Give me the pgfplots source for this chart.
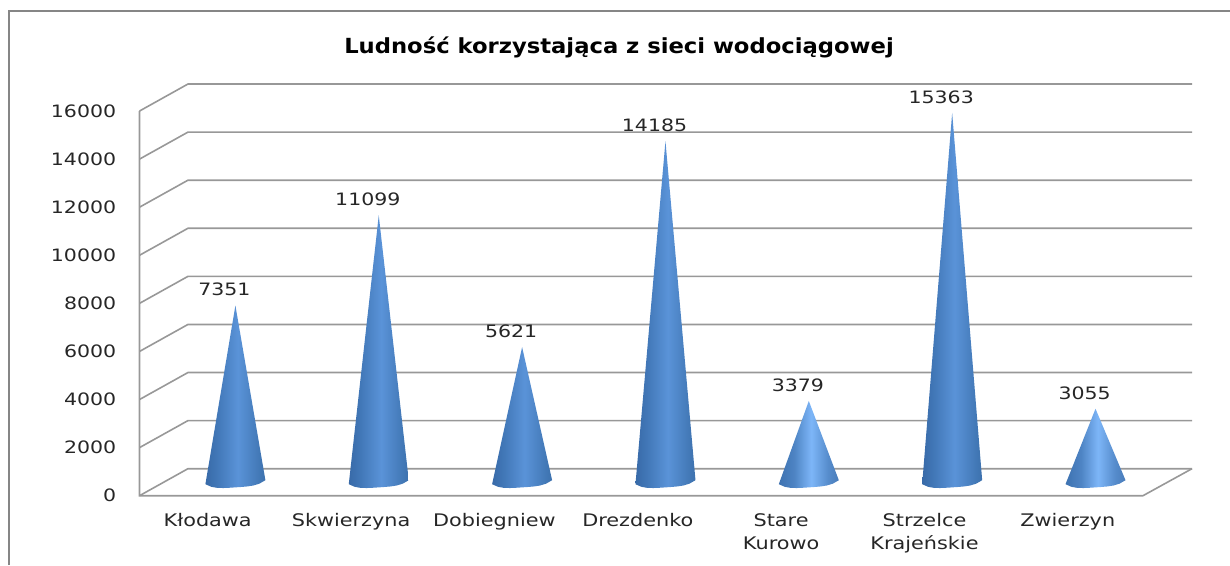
\documentclass[border=0pt]{standalone}
\usepackage{fontspec}
\setmainfont[FakeStretch=1.2]{DejaVu Sans}
\newfontfamily\titlefont[FakeStretch=1.09]{DejaVu Sans}
\usepackage{pgfplots}
\usepackage{pgfplotstable}
\pgfplotsset{compat=1.18}
\definecolor{gridc}{HTML}{989898}
\definecolor{framec}{HTML}{868686}
\definecolor{txt}{HTML}{262626}
\definecolor{aa}{HTML}{24507F}\definecolor{ab}{HTML}{3363A0}\definecolor{ac}{HTML}{4278B8}
\definecolor{ad}{HTML}{5A93D8}\definecolor{ae}{HTML}{4278B6}\definecolor{af}{HTML}{305F98}\definecolor{ag}{HTML}{224A78}
\definecolor{ba}{HTML}{2C5E9A}\definecolor{bb}{HTML}{3A6EAC}\definecolor{bc}{HTML}{4E84C4}
\definecolor{bd}{HTML}{7DB6F8}\definecolor{be}{HTML}{568CCC}\definecolor{bf}{HTML}{3A6AA6}\definecolor{bg}{HTML}{2A5488}
\pgfdeclarehorizontalshading{coneA}{100bp}{
  color(0bp)=(aa);color(20bp)=(ab);color(35bp)=(ac);
  color(52bp)=(ad);color(70bp)=(ae);color(88bp)=(af);color(100bp)=(ag)}
\pgfdeclarehorizontalshading{coneB}{100bp}{
  color(0bp)=(ba);color(22bp)=(bb);color(38bp)=(bc);
  color(52bp)=(bd);color(66bp)=(be);color(85bp)=(bf);color(100bp)=(bg)}
% data: population per municipality
\pgfplotstableread{
i v
0 7351
1 11099
2 5621
3 14185
4 3379
5 15363
6 3055
}\popdata
% outline of one cone: tip, then the front arc of its elliptical base
\pgfplotstableread{
u h e
0 1 0
0.2093 0 83
0.1674 0 -61
0.1256 0 -137
0.0837 0 -176
0.0419 0 -198
0 0 -215
-0.0419 0 -231.6
-0.0837 0 -242
-0.1256 0 -237
-0.1674 0 -193
-0.2093 0 -83
}\conetable
\newcommand{\cone}[3]{\addplot[shading=#3,draw=none,forget plot] table[x expr=#1+0.169+\thisrow{u},y expr=#2*\thisrow{h}+561.6+\thisrow{e}]{\conetable};}
\begin{document}
\begin{tikzpicture}[x=0.75pt,y=0.75pt]
\path[use as bounding box] (0,0) rectangle (1230,565);
\draw[framec,line width=1.6pt] (9,0)--(9,554)--(1232,554);
\begin{axis}[
  at={(104.625pt,51.975pt)},anchor=south west,
  scale only axis,width=752.6pt,height=288.5pt,
  xmin=-0.5,xmax=6.5,ymin=0,ymax=16000,
  clip=false,
  axis line style={draw=none},
  major tick length=0pt,
  xtick={0,1,2,3,4,5,6},
  xticklabels={Kłodawa,Skwierzyna,Dobiegniew,Drezdenko,{Stare\\Kurowo},{Strzelce\\Krajeńskie},Zwierzyn},
  x tick label style={align=center,font=\fontsize{13}{17}\selectfont,text=txt,xshift=-2.6pt,yshift=-10pt,anchor=north},
  ytick={0,2000,...,16000},
  y tick label style={font=\fontsize{12.8}{15}\selectfont,text=txt,xshift=-14pt},
  /pgf/number format/assume math mode=true,
  /pgf/number format/1000 sep={},
  scaled y ticks=false,
]
\addplot[gridc,line width=1.2pt,forget plot] coordinates {(-0.5,0)(-0.162,1123)(6.842,1123)};
\addplot[gridc,line width=1.2pt,forget plot] coordinates {(-0.5,2000)(-0.162,3123)(6.842,3123)};
\addplot[gridc,line width=1.2pt,forget plot] coordinates {(-0.5,4000)(-0.162,5123)(6.842,5123)};
\addplot[gridc,line width=1.2pt,forget plot] coordinates {(-0.5,6000)(-0.162,7123)(6.842,7123)};
\addplot[gridc,line width=1.2pt,forget plot] coordinates {(-0.5,8000)(-0.162,9123)(6.842,9123)};
\addplot[gridc,line width=1.2pt,forget plot] coordinates {(-0.5,10000)(-0.162,11123)(6.842,11123)};
\addplot[gridc,line width=1.2pt,forget plot] coordinates {(-0.5,12000)(-0.162,13123)(6.842,13123)};
\addplot[gridc,line width=1.2pt,forget plot] coordinates {(-0.5,14000)(-0.162,15123)(6.842,15123)};
\addplot[gridc,line width=1.2pt,forget plot] coordinates {(-0.5,16000)(-0.162,17123)(6.842,17123)};
\addplot[gridc,line width=1.2pt,forget plot] coordinates {(-0.5,16000)(-0.5,0)(6.5,0)(6.842,1123)};
\cone{0}{7351}{coneA}
\cone{1}{11099}{coneA}
\cone{2}{5621}{coneA}
\cone{3}{14185}{coneA}
\cone{4}{3379}{coneB}
\cone{5}{15363}{coneA}
\cone{6}{3055}{coneB}
\addplot[draw=none,mark=none,forget plot,point meta=explicit,
  nodes near coords={\pgfmathprintnumber[fixed,precision=0,1000 sep={}]{\pgfplotspointmeta}},
  every node near coord/.style={font=\fontsize{12.8}{15}\selectfont,text=txt,anchor=south,yshift=3.5pt,xshift=-8.2pt}]
  table[x expr=\thisrow{i}+0.169,y expr=\thisrow{v}+561.6,meta=v]{\popdata};
\end{axis}
\node[font=\titlefont\bfseries\fontsize{15.6}{18}\selectfont,text=black] at (619,517.5) {Ludność korzystająca z sieci wodociągowej};
\end{tikzpicture}
\end{document}
